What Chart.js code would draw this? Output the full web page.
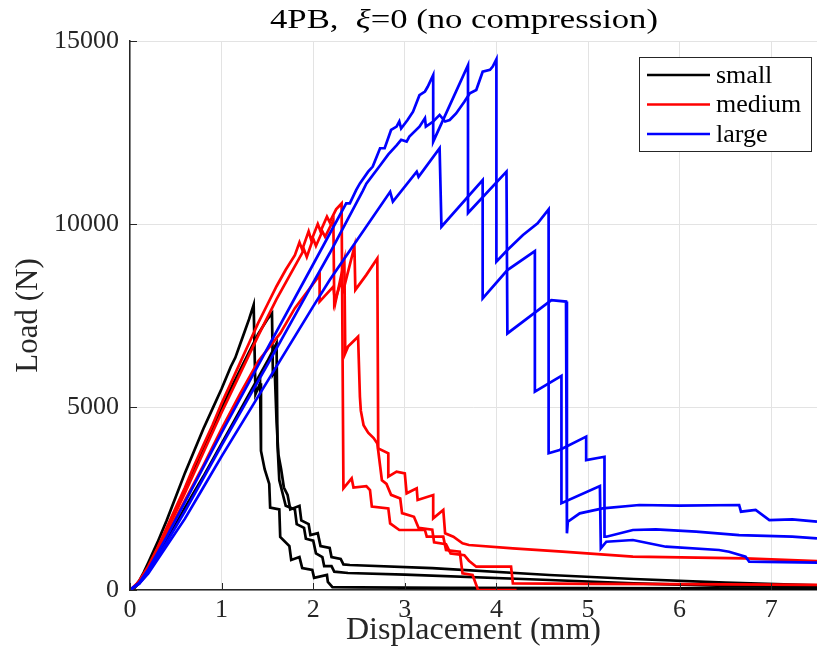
<!DOCTYPE html>
<html>
<head>
<meta charset="utf-8">
<script src="https://cdn.jsdelivr.net/npm/chart.js@4/dist/chart.umd.min.js"></script>
<style>
	html, body { margin: 0; padding: 0; background: #fff; }
	#wrap { width: 817px; height: 670px; }
</style>
</head>
<body>
<div id="wrap"><canvas id="loadChart" width="817" height="670"></canvas></div>
<script>
// tick labels
const xTickValues = [0, 1, 2, 3, 4, 5, 6, 7]
const yTickValues = [0, 5000, 10000, 15000]

// displacement (mm), load (N)
const small1 = [[0,0],[0.05,80],[0.1,250],[0.15,480],[0.2,750],[0.3,1300],[0.4,1900],[0.5,2550],[0.6,3200],[0.7,3800],[0.8,4400],[0.9,4950],[1.0,5500],[1.1,6100],[1.15,6350],[1.2,6700],[1.25,7050],[1.3,7400],[1.35,7790],[1.37,5350],[1.42,5650],[1.43,3800],[1.47,3300],[1.52,2900],[1.53,2250],[1.63,2200],[1.64,1450],[1.74,1200],[1.76,820],[1.85,900],[1.88,600],[1.99,550],[2.01,330],[2.15,410],[2.16,220],[2.21,80],[2.5,70],[3.5,60],[5,50],[7.5,40]]
const small2 = [[0,0],[0.05,60],[0.1,200],[0.2,600],[0.3,1100],[0.4,1650],[0.5,2200],[0.6,2750],[0.7,3300],[0.8,3850],[0.9,4400],[1.0,4950],[1.1,5500],[1.2,6000],[1.3,6500],[1.4,7000],[1.5,7400],[1.55,7560],[1.56,5900],[1.58,6000],[1.6,4600],[1.62,3700],[1.65,3300],[1.68,2800],[1.72,2600],[1.75,2200],[1.85,2300],[1.87,1900],[1.95,1800],[1.97,1500],[2.05,1550],[2.08,1200],[2.18,1150],[2.2,900],[2.3,850],[2.33,700],[2.4,683],[3.3,600],[4.58,410],[5.5,300],[6.5,200],[7.5,130]]
const small3 = [[0,0],[0.1,180],[0.2,500],[0.4,1350],[0.6,2250],[0.8,3100],[1.0,4000],[1.2,4900],[1.4,5800],[1.5,6250],[1.6,6740],[1.61,4000],[1.63,3000],[1.68,2500],[1.7,2300],[1.8,2200],[1.82,1800],[1.9,1700],[1.92,1400],[2.0,1350],[2.03,1000],[2.1,900],[2.12,650],[2.2,650],[2.23,500],[2.38,464],[3,420],[4.58,273],[5.5,180],[6.5,110],[7.5,80]]

const medium1 = [[0,0],[0.05,80],[0.1,250],[0.2,650],[0.3,1150],[0.4,1700],[0.5,2250],[0.6,2800],[0.7,3400],[0.8,3950],[0.9,4500],[1.0,5100],[1.1,5650],[1.2,6200],[1.3,6750],[1.4,7300],[1.5,7800],[1.6,8300],[1.7,8750],[1.8,9150],[1.85,9500],[1.88,9300],[1.95,9800],[1.98,9550],[2.05,10000],[2.08,9800],[2.15,10200],[2.18,10050],[2.25,10400],[2.31,10560],[2.33,2780],[2.42,3050],[2.44,2800],[2.58,2840],[2.62,2730],[2.64,2280],[2.82,2230],[2.84,1820],[2.94,1640],[3.22,1640],[3.24,1456],[3.42,1456],[3.45,1093],[3.6,1046],[3.63,456],[3.74,410],[3.8,0],[4.22,0]]
const medium2 = [[0,0],[0.1,230],[0.2,600],[0.4,1600],[0.6,2650],[0.8,3750],[1.0,4850],[1.2,5900],[1.4,6950],[1.6,7950],[1.8,8850],[1.9,9300],[1.93,9100],[2.0,9600],[2.03,9400],[2.1,9800],[2.13,9650],[2.22,10100],[2.23,7840],[2.3,8400],[2.33,8200],[2.45,9380],[2.46,8200],[2.58,8610],[2.7,9060],[2.71,3870],[2.82,3735],[2.82,3096],[2.91,3232],[3.0,3188],[3.02,2642],[3.13,2779],[3.14,2459],[3.31,2595],[3.31,1958],[3.42,2186],[3.44,1549],[3.53,1456],[3.63,1276],[3.7,1230],[4.18,1139],[4.72,1046],[5.49,910],[6.72,865],[7.5,790]]
const medium3 = [[0,0],[0.1,200],[0.2,560],[0.4,1500],[0.6,2450],[0.8,3400],[1.0,4400],[1.2,5350],[1.4,6250],[1.64,7010],[1.8,7700],[2.07,8600],[2.07,7880],[2.22,8290],[2.24,7830],[2.34,9000],[2.35,6470],[2.38,6650],[2.49,6920],[2.51,5280],[2.52,4900],[2.55,4500],[2.6,4300],[2.66,4150],[2.7,4000],[2.75,3000],[2.8,2900],[2.85,2600],[2.95,2500],[2.97,2100],[3.1,2000],[3.15,1700],[3.3,1650],[3.32,1300],[3.45,1250],[3.5,1000],[3.65,950],[3.7,800],[3.78,637],[4.16,637],[4.18,182],[5,170],[6,160],[7.5,140]]

const large1 = [[0,0],[0.1,200],[0.2,560],[0.4,1450],[0.6,2400],[0.8,3350],[1.0,4300],[1.5,6600],[2.0,8900],[2.36,10565],[2.40,10565],[2.47,10930],[2.51,11110],[2.60,11430],[2.65,11570],[2.73,12070],[2.78,12070],[2.85,12570],[2.91,12660],[2.94,12800],[2.96,12610],[3.03,12840],[3.09,13070],[3.16,13520],[3.22,13620],[3.25,13750],[3.31,14070],[3.31,12250],[3.69,14340],[3.69,10300],[4.11,11430],[4.12,7010],[4.42,7580],[4.6,7920],[4.76,7880],[4.77,1550],[4.78,1866],[4.91,2095],[5.16,2232],[5.56,2322],[6.0,2303],[6.65,2322],[6.67,2140],[6.83,2186],[6.98,1912],[7.23,1931],[7.5,1866]]
const large2 = [[0,0],[0.1,180],[0.2,500],[0.4,1300],[0.6,2150],[0.8,3050],[1.0,3950],[1.5,6150],[2.0,8400],[2.18,9200],[2.54,10900],[2.58,11100],[2.73,11600],[2.82,11900],[2.91,12150],[2.96,12300],[3.02,12250],[3.05,12390],[3.16,12660],[3.22,12890],[3.23,12660],[3.31,12800],[3.38,12980],[3.44,12800],[3.49,12840],[3.56,13020],[3.65,13340],[3.71,13570],[3.78,13660],[3.85,14160],[3.93,14210],[3.96,14300],[4.0,14500],[4.0,8970],[4.12,9290],[4.29,9700],[4.45,10020],[4.57,10400],[4.57,3735],[4.69,3825],[4.98,4190],[4.98,3550],[5.18,3640],[5.18,1457],[5.2,1456],[5.49,1640],[5.74,1658],[6.18,1593],[6.65,1500],[7.23,1456],[7.5,1412]]
const large3 = [[0,0],[0.1,170],[0.2,450],[0.4,1200],[0.6,1950],[0.8,2800],[1.0,3650],[1.5,5700],[2.0,7750],[2.18,8470],[2.84,10880],[2.87,10610],[3.13,11430],[3.15,11290],[3.38,12070],[3.40,9925],[3.85,11200],[3.85,7970],[4.12,8740],[4.42,9260],[4.42,5420],[4.71,5850],[4.71,2370],[5.13,2840],[5.14,1140],[5.2,1320],[5.49,1366],[5.85,1183],[6.43,1093],[6.54,1046],[6.72,910],[6.76,773],[7.5,746]]

const groupNames = ['small', 'medium', 'large']
const groupColors = ['#000000', '#ff0000', '#0000ff']
const groups = [[small1, small2, small3], [medium1, medium2, medium3], [large1, large2, large3]]

const serif = "'Liberation Serif', 'DejaVu Serif', serif"
const axisColor = '#262626'

const datasets = []
groups.forEach((curves, g) => {
	curves.forEach((pts, i) => {
		datasets.push({
			label: groupNames[g] + (i + 1),
			data: pts.map(p => ({ x: p[0], y: p[1] })),
			borderColor: groupColors[g],
			backgroundColor: groupColors[g],
			borderWidth: 2.7,
			pointRadius: 0,
			tension: 0,
			fill: false,
			order: 3 - g,
		})
	})
})

// draws text squeezed/stretched to a given width (Computer Modern is wider than Times)
function fitText(ctx, text, x, y, width) {
	const w = ctx.measureText(text).width
	ctx.save()
	ctx.translate(x, y)
	ctx.scale(width / w, 1)
	ctx.fillText(text, 0, 0)
	ctx.restore()
}

const overlay = {
	id: 'overlay',
	afterDraw(chart) {
		const ctx = chart.ctx
		const a = chart.chartArea
		ctx.save()
		// MATLAB style inward ticks
		ctx.strokeStyle = axisColor
		ctx.lineWidth = 1
		chart.scales.x.ticks.forEach(t => {
			const x = Math.round(chart.scales.x.getPixelForValue(t.value)) + 0.5
			ctx.beginPath()
			ctx.moveTo(x, a.bottom)
			ctx.lineTo(x, a.bottom - 7)
			ctx.stroke()
		})
		chart.scales.y.ticks.forEach(t => {
			const y = Math.round(chart.scales.y.getPixelForValue(t.value)) + 0.5
			ctx.beginPath()
			ctx.moveTo(a.left, y)
			ctx.lineTo(a.left + 7, y)
			ctx.stroke()
		})

		// title, stretched to the reference width
		ctx.fillStyle = '#000'
		ctx.textBaseline = 'alphabetic'
		const parts = [['4PB,  ', ''], ['ξ', 'italic '], ['=0 (no compression)', '']]
		let total = 0
		parts.forEach(p => {
			ctx.font = p[1] + '27px ' + serif
			total += ctx.measureText(p[0]).width
		})
		const sx = 388 / total
		let tx = 270
		parts.forEach(p => {
			ctx.font = p[1] + '27px ' + serif
			const w = ctx.measureText(p[0]).width
			fitText(ctx, p[0], tx, 28, w * sx)
			tx += w * sx
		})

		// legend box
		ctx.fillStyle = '#fff'
		ctx.fillRect(639.5, 57.5, 172, 94)
		ctx.strokeStyle = axisColor
		ctx.lineWidth = 1
		ctx.strokeRect(639.5, 57.5, 172, 94)
		ctx.font = '26px ' + serif
		groupNames.forEach((name, i) => {
			const y = 75 + i * 29.5
			ctx.strokeStyle = groupColors[i]
			ctx.lineWidth = 2.7
			ctx.beginPath()
			ctx.moveTo(647, y)
			ctx.lineTo(710, y)
			ctx.stroke()
			ctx.fillStyle = '#000'
			ctx.textBaseline = 'middle'
			ctx.fillText(name, 716, y + 1)
		})
		ctx.restore()
	},
}

const chart = new Chart(document.getElementById('loadChart'), {
	type: 'line',
	data: { datasets: datasets },
	options: {
		responsive: false,
		animation: false,
		layout: { padding: { top: 41, right: 0, bottom: 0, left: 0 } },
		plugins: {
			legend: { display: false },
			title: { display: false },
			tooltip: { enabled: false },
		},
		scales: {
			x: {
				type: 'linear',
				min: 0,
				max: 7.5,
				afterBuildTicks(s) {
					s.ticks = xTickValues.map(v => ({ value: v }))
				},
				afterFit(s) {
					s.height = 80
				},
				ticks: {
					color: axisColor,
					font: { family: serif, size: 26 },
					padding: 5,
					maxRotation: 0,
					autoSkip: false,
				},
				grid: { color: '#e3e3e3', drawTicks: false, lineWidth: 1 },
				border: { color: axisColor, width: 1.5 },
				title: {
					display: true,
					text: 'Displacement (mm)',
					color: axisColor,
					font: { family: serif, size: 32 },
					padding: { top: 0, bottom: 20 },
				},
			},
			y: {
				type: 'linear',
				min: 0,
				max: 15000,
				afterBuildTicks(s) {
					s.ticks = yTickValues.map(v => ({ value: v }))
				},
				afterFit(s) {
					s.width = 130
				},
				ticks: {
					color: axisColor,
					font: { family: serif, size: 26 },
					padding: 11,
					callback: v => String(v),
				},
				grid: { color: '#e3e3e3', drawTicks: false, lineWidth: 1 },
				border: { color: axisColor, width: 1.5 },
				title: {
					display: true,
					text: 'Load (N)',
					color: axisColor,
					font: { family: serif, size: 31 },
					padding: { top: 10, bottom: 0 },
				},
			},
		},
	},
	plugins: [overlay],
})
</script>
</body>
</html>
